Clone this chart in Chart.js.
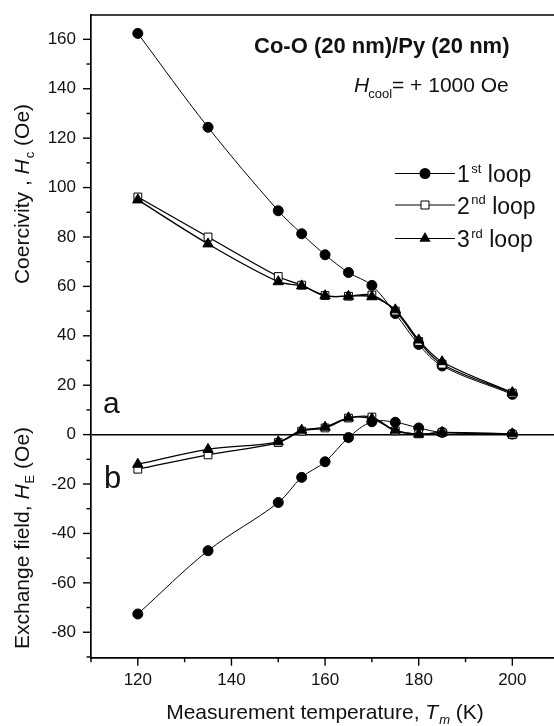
<!DOCTYPE html>
<html><head><meta charset="utf-8">
<script src="https://cdn.jsdelivr.net/npm/chart.js@4.4.1/dist/chart.umd.min.js"></script>
<style>html,body{margin:0;padding:0;background:#fff;overflow:hidden}canvas{display:block}</style>
</head><body>
<canvas id="c" width="554" height="726"></canvas>
<script>
// ---- data ----
const temperatures = [120, 135, 150, 155, 160, 165, 170, 175, 180, 185, 200];
const hcLoop1 = [162.4, 124.4, 90.6, 81.3, 72.8, 65.6, 60.4, 49.0, 36.5, 27.8, 16.3];
const hcLoop2 = [96.2, 80.0, 64.0, 60.5, 56.3, 56.0, 56.5, 50.0, 37.7, 28.5, 16.8];
const hcLoop3 = [95.0, 77.2, 61.9, 60.2, 56.2, 56.0, 55.8, 50.5, 38.3, 29.5, 17.0];
const heLoop1 = [-72.6, -47.0, -27.5, -17.3, -11.0, -1.2, 5.2, 5.0, 2.7, 0.9, 0.2];
const heLoop2 = [-14.0, -8.2, -3.2, 1.4, 2.7, 6.7, 7.1, 1.5, 0.3, 0.8, 0.0];
const heLoop3 = [-12.0, -6.0, -2.9, 1.8, 3.0, 6.8, 6.4, 1.8, 0.2, 0.9, 0.3];
const xTickLabels = [120, 140, 160, 180, 200];
const yTickLabels = [-80, -60, -40, -20, 0, 20, 40, 60, 80, 100, 120, 140, 160];
const legendLabels = [['1', 'st'], ['2', 'nd'], ['3', 'rd']];

const F = '"Liberation Sans", Arial, Helvetica, sans-serif';
const INK = '#111';

const loopStyles = [
  { pointStyle: 'circle', bg: '#000', radius: 5, order: 3, lw: 1.0 },
  { pointStyle: 'rect', bg: '#fff', radius: 5.5, order: 2, lw: 1.3 },
  { pointStyle: 'triangle', bg: '#000', radius: 6, order: 1, lw: 1.3 }
];

function toPoints(arr) { return temperatures.map((t, i) => ({ x: t, y: arr[i] })); }
function makeDs(arr, k) {
  const s = loopStyles[k];
  return {
    data: toPoints(arr), borderColor: '#000', borderWidth: s.lw, tension: 0.35,
    pointStyle: s.pointStyle, pointRadius: s.radius, pointBackgroundColor: s.bg,
    pointBorderColor: '#000', pointBorderWidth: 1, order: s.order, fill: false
  };
}
const datasets = [
  makeDs(hcLoop1, 0), makeDs(hcLoop2, 1), makeDs(hcLoop3, 2),
  makeDs(heLoop1, 0), makeDs(heLoop2, 1), makeDs(heLoop3, 2)
];

function drawRich(ctx, x, y, segs, align) {
  let total = 0;
  segs.forEach(s => { ctx.font = s.f; s.w = ctx.measureText(s.t).width; total += s.w + (s.dx || 0); });
  let cx = align === 'center' ? x - total / 2 : x;
  segs.forEach(s => {
    ctx.font = s.f; cx += (s.dx || 0);
    ctx.fillText(s.t, cx, y + (s.dy || 0)); cx += s.w;
  });
}

function drawMarker(ctx, style, x, y) {
  ctx.save();
  ctx.lineWidth = 1; ctx.strokeStyle = '#000';
  ctx.beginPath();
  if (style === 'circle') {
    ctx.arc(x, y, 5.5, 0, Math.PI * 2); ctx.fillStyle = '#000'; ctx.fill();
  } else if (style === 'rect') {
    ctx.rect(x - 4, y - 4, 8, 8); ctx.fillStyle = '#fff'; ctx.fill(); ctx.stroke();
  } else {
    const r = 6.5;
    for (let i = 0; i < 3; i++) {
      const a = i * 2 * Math.PI / 3;
      const px = x + Math.sin(a) * r, py = y - Math.cos(a) * r;
      if (i === 0) ctx.moveTo(px, py); else ctx.lineTo(px, py);
    }
    ctx.closePath(); ctx.fillStyle = '#000'; ctx.fill();
  }
  ctx.restore();
}

const decorPlugin = {
  id: 'decor',
  afterDraw(chart) {
    const ctx = chart.ctx, a = chart.chartArea;
    const xs = chart.scales.x, ys = chart.scales.y;
    ctx.save();
    // top frame line
    ctx.strokeStyle = '#000'; ctx.lineWidth = 1.7;
    ctx.beginPath(); ctx.moveTo(a.left - 0.85, a.top); ctx.lineTo(chart.width, a.top); ctx.stroke();
    // tick marks (major and minor), outward
    ctx.lineWidth = 1.4;
    for (let v = 110; v <= xs.max + 0.01; v += 10) {
      const px = xs.getPixelForValue(v), len = (v % 20 === 0) ? 8 : 4.5;
      ctx.beginPath(); ctx.moveTo(px, a.bottom); ctx.lineTo(px, a.bottom + len); ctx.stroke();
    }
    for (let v = -90; v <= ys.max + 0.01; v += 10) {
      if (v < ys.min) continue;
      const py = ys.getPixelForValue(v), len = (v % 20 === 0) ? 8 : 4.5;
      ctx.beginPath(); ctx.moveTo(a.left, py); ctx.lineTo(a.left - len, py); ctx.stroke();
    }
    ctx.fillStyle = INK; ctx.textBaseline = 'alphabetic'; ctx.textAlign = 'left';
    // annotations
    drawRich(ctx, 254, 53, [{ t: 'Co-O (20 nm)/Py (20 nm)', f: 'bold 22px ' + F }]);
    drawRich(ctx, 354, 92, [
      { t: 'H', f: 'italic 21px ' + F },
      { t: 'cool', f: '13px ' + F, dy: 6, dx: -1 },
      { t: '= + 1000 Oe', f: '21px ' + F }
    ]);
    drawRich(ctx, 103, 413, [{ t: 'a', f: '30px ' + F }]);
    drawRich(ctx, 104, 488, [{ t: 'b', f: '31px ' + F }]);
    // legend
    const rowsY = [173.5, 205, 238.5];
    legendLabels.forEach((lab, i) => {
      const y = rowsY[i];
      ctx.strokeStyle = '#000'; ctx.lineWidth = 1.1;
      ctx.beginPath(); ctx.moveTo(395, y); ctx.lineTo(455, y); ctx.stroke();
      drawMarker(ctx, loopStyles[i].pointStyle, 425, y);
      ctx.fillStyle = INK;
      drawRich(ctx, 457, y + 8.5, [
        { t: lab[0], f: '23px ' + F },
        { t: lab[1], f: '13px ' + F, dy: -9.5, dx: 1.5 },
        { t: ' loop', f: '23px ' + F }
      ]);
    });
    // axis titles
    drawRich(ctx, 325, 719, [
      { t: 'Measurement temperature, ', f: '21px ' + F },
      { t: 'T', f: 'italic 21px ' + F },
      { t: 'm', f: 'italic 13px ' + F, dy: 5, dx: 1 },
      { t: ' (K)', f: '21px ' + F }
    ], 'center');
    const yTitle = (cy, pre, sub) => {
      ctx.save(); ctx.translate(29, cy); ctx.rotate(-Math.PI / 2);
      drawRich(ctx, 0, 0, [
        { t: pre, f: '21px ' + F },
        { t: 'H', f: 'italic 21px ' + F },
        { t: sub, f: '13px ' + F, dy: 5, dx: 1 },
        { t: ' (Oe)', f: '21px ' + F }
      ], 'center');
      ctx.restore();
    };
    yTitle(194, 'Coercivity , ', 'c');
    yTitle(538, 'Exchange field, ', 'E');
    ctx.restore();
  }
};

function zeroPad(s) { s.paddingTop = 0; s.paddingBottom = 0; s.paddingLeft = 0; s.paddingRight = 0; }

new Chart(document.getElementById('c'), {
  type: 'line',
  data: { datasets },
  options: {
    responsive: false, animation: false, devicePixelRatio: 1,
    layout: { autoPadding: false, padding: { top: 15, right: 0, left: 0, bottom: 0 } },
    plugins: { legend: { display: false }, tooltip: { enabled: false } },
    scales: {
      x: {
        type: 'linear', position: 'bottom', min: 110, max: 208.9,
        grid: { display: false, drawTicks: false },
        border: { display: true, color: '#000', width: 1.7 },
        ticks: { color: INK, font: { family: F, size: 17 }, padding: 12, maxRotation: 0 },
        afterBuildTicks: s => { s.ticks = xTickLabels.map(v => ({ value: v })); },
        afterFit: s => { s.height = 68.3; zeroPad(s); }
      },
      y: {
        type: 'linear', min: -90.3, max: 169.85,
        grid: {
          display: true, drawTicks: false, drawOnChartArea: true,
          color: c => (c.tick && c.tick.value === 0) ? '#000' : 'rgba(0,0,0,0)', lineWidth: 1.5
        },
        border: { display: true, color: '#000', width: 1.7 },
        ticks: { color: INK, font: { family: F, size: 17 }, padding: 15 },
        afterBuildTicks: s => { s.ticks = yTickLabels.map(v => ({ value: v })); },
        afterFit: s => { s.width = 91; zeroPad(s); }
      }
    }
  },
  plugins: [decorPlugin]
});
</script>
</body></html>
